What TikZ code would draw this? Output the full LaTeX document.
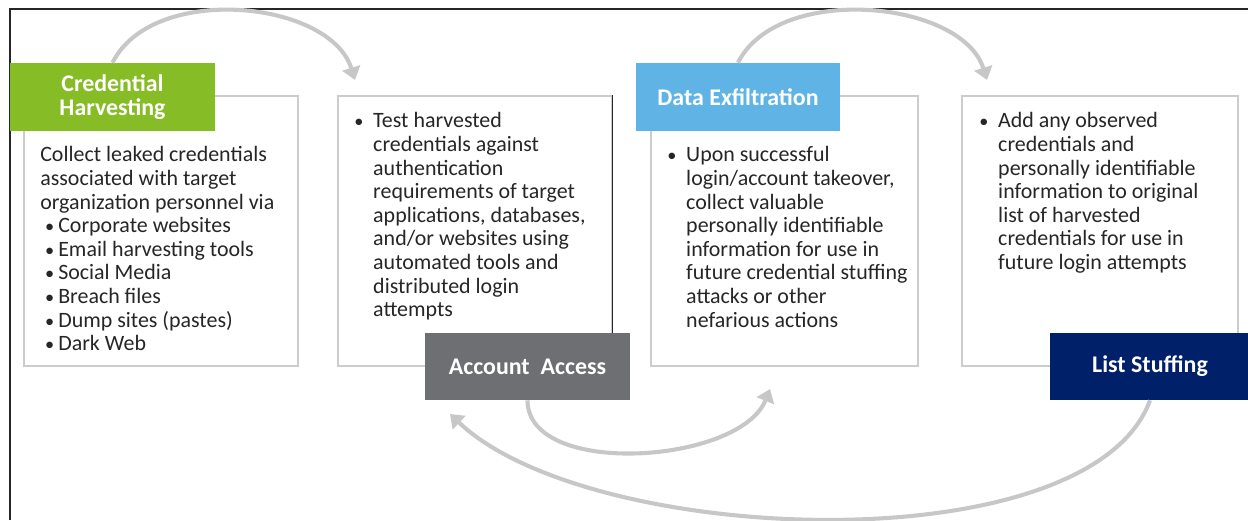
\documentclass[tikz,border=0pt]{standalone}
\usepackage{fontspec}
\setmainfont{Carlito}
\usepackage{tikz}
\usetikzlibrary{arrows.meta}

\definecolor{harvgreen}{HTML}{86BC25}
\definecolor{exfilblue}{HTML}{5FB4E5}
\definecolor{accgray}{HTML}{6D6F72}
\definecolor{stuffnavy}{HTML}{00206A}

\newcommand{\bulletmark}{{\fontsize{13}{13}\selectfont\textbullet}}
\newcommand{\dotitem}{\hspace*{3.5pt}\makebox[9.3pt][l]{\bulletmark}}

\begin{document}
\begin{tikzpicture}[x=0.025cm, y=-0.025cm,
    panel/.style={draw=black!20, line width=0.8pt, fill=white, minimum height=6.75cm},
    head/.style={text=white, font=\fontsize{17}{17}\selectfont\bfseries, align=center,
                 minimum width=5.125cm, minimum height=1.7cm, inner sep=0},
    body/.style={anchor=north west, inner sep=0, text=black!85, font=\fontsize{15.6}{16.8}\selectfont},
    flow/.style={draw=black!22, line width=2.9pt, -{Triangle[width=13pt,length=9pt]}}]
    \useasboundingbox (0,0) rectangle (1248,520);
    \draw[line width=1.2pt, black!85] (10,520) -- (10,9) -- (1248,9);

    % the four panels
    \node[panel, minimum width=6.85cm] (harv) at (161,231) {};
    \node[panel, minimum width=6.85cm] (test) at (475,231) {};
    \node[panel, minimum width=6.675cm] (exfil) at (784.5,231) {};
    \node[panel, minimum width=6.9cm] (list) at (1100,231) {};
    \draw[black!85, line width=1pt] (test.north east) -- (test.east |- 0,333);

    % coloured titles
    \node[head, fill=harvgreen] (cred) at (112.5,97) {Credential\\Harvesting};
    \node[head, fill=exfilblue, minimum width=5.1cm] (dex) at (738,97) {Data Exfiltration};
    \node[head, fill=accgray, minimum height=1.675cm] (acc) at (527.5,366.5) {Account\ \ Access};
    \node[head, fill=stuffnavy, minimum width=5cm, minimum height=1.675cm] (lst) at (1150,366.5) {List Stuffing};

    % panel texts
    \node[body] (harvtxt) at (40,145) {\begin{tabular}{@{}l@{}}
        Collect leaked credentials\\
        associated with target\\
        organization personnel via\\
        \dotitem Corporate websites\\
        \dotitem Email harvesting tools\\
        \dotitem Social Media\\
        \dotitem Breach files\\
        \dotitem Dump sites (pastes)\\
        \dotitem Dark Web
    \end{tabular}};
    \node[body] (testtxt) at (354,111) {\begin{tabular}{@{}l@{\hspace{7pt}}l@{}}
        \bulletmark & Test harvested\\
        & credentials against\\
        & authentication\\
        & requirements of target\\
        & applications, databases,\\
        & and/or websites using\\
        & automated tools and\\
        & distributed login\\
        & attempts
    \end{tabular}};
    \node[body] (exfiltxt) at (667,145) {\begin{tabular}{@{}l@{\hspace{7pt}}l@{}}
        \bulletmark & Upon successful\\
        & login/account takeover,\\
        & collect valuable\\
        & personally identifiable\\
        & information for use in\\
        & future credential stuffing\\
        & attacks or other\\
        & nefarious actions
    \end{tabular}};
    \node[body] (listtxt) at (979,111) {\begin{tabular}{@{}l@{\hspace{7pt}}l@{}}
        \bulletmark & Add any observed\\
        & credentials and\\
        & personally identifiable\\
        & information to original\\
        & list of harvested\\
        & credentials for use in\\
        & future login attempts
    \end{tabular}};

    % cycle arrows
    \coordinate (tip1) at (355,80);
    \coordinate (tip2) at (987,80);
    \coordinate (tip3) at (770,389);
    \coordinate (tip4) at (450,414);
    \draw[flow] (cred.north) .. controls +(40,-80) and +(-25,-80) .. (tip1);
    \draw[flow] (dex.north) .. controls +(40,-80) and +(-25,-80) .. (tip2);
    \draw[flow] (acc.south) .. controls +(0,78) and +(-30,75) .. (tip3);
    \draw[flow] (lst.south) .. controls +(-60,165) and +(140,133) .. (tip4);
\end{tikzpicture}
\end{document}
